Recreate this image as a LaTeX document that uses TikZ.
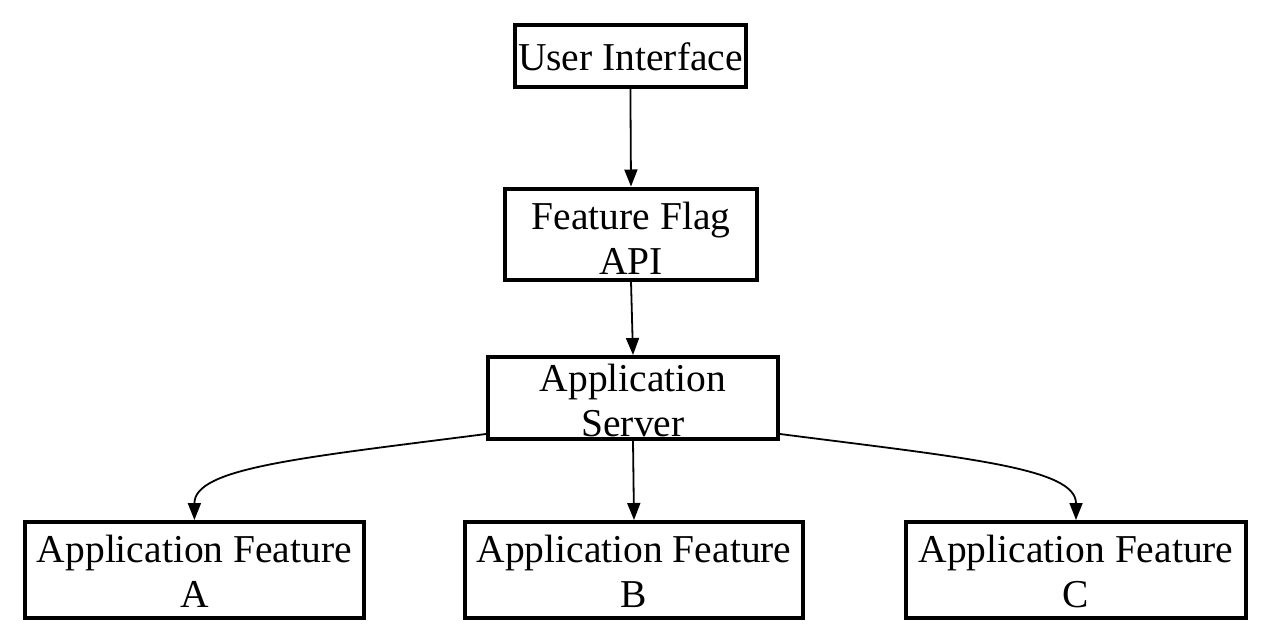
\documentclass[tikz,border=0pt]{standalone}
\usepackage{fontspec}
\setmainfont{Liberation Serif}
\usetikzlibrary{arrows.meta}
\begin{document}
\begin{tikzpicture}[x=1pt,y=-1pt,
  box/.style={draw,line width=4pt,inner sep=0pt},
  lbl/.style={font=\fontsize{39.5}{45}\selectfont,align=center,inner sep=0pt,anchor=base},
  arr/.style={line width=1.8pt,-{Triangle[length=17pt,width=13pt]}}]
\useasboundingbox (0,0) rectangle (1268,641);
% boxes
\node[box,minimum width=231pt,minimum height=62pt] (ui) at (630.4,56) {};
\node[box,minimum width=252pt,minimum height=91pt] (ff) at (631,234) {};
\node[box,minimum width=290pt,minimum height=82pt] (srv) at (633,398) {};
\node[box,minimum width=339pt,minimum height=96pt] (fa) at (194.4,570) {};
\node[box,minimum width=338pt,minimum height=96pt] (fb) at (634,570) {};
\node[box,minimum width=340pt,minimum height=96pt] (fc) at (1076,570) {};
% labels (anchor = baseline of last line)
\node[lbl] (tui) at (630.4,70.7) {User Interface};
\node[lbl] (tff) at (631,274) {Feature Flag\\API};
\node[lbl] (tsrv) at (633,436) {Application\\Server};
\node[lbl] (tfa) at (194.4,607) {Application Feature\\A};
\node[lbl] (tfb) at (634,607) {Application Feature\\B};
\node[lbl] (tfc) at (1076,607) {Application Feature\\C};
% connectors
\draw[arr] (ui.south) -- (ff.north);
\draw[arr] (ff.south) -- (srv.north);
\draw[arr] (srv.south) -- (fb.north);
\draw[arr] ([yshift=-36pt]srv.west) .. controls +(-187,24) and +(0,-52) .. (fa.north);
\draw[arr] ([yshift=-36pt]srv.east) .. controls +(187,24) and +(0,-52) .. (fc.north);
\end{tikzpicture}
\end{document}
